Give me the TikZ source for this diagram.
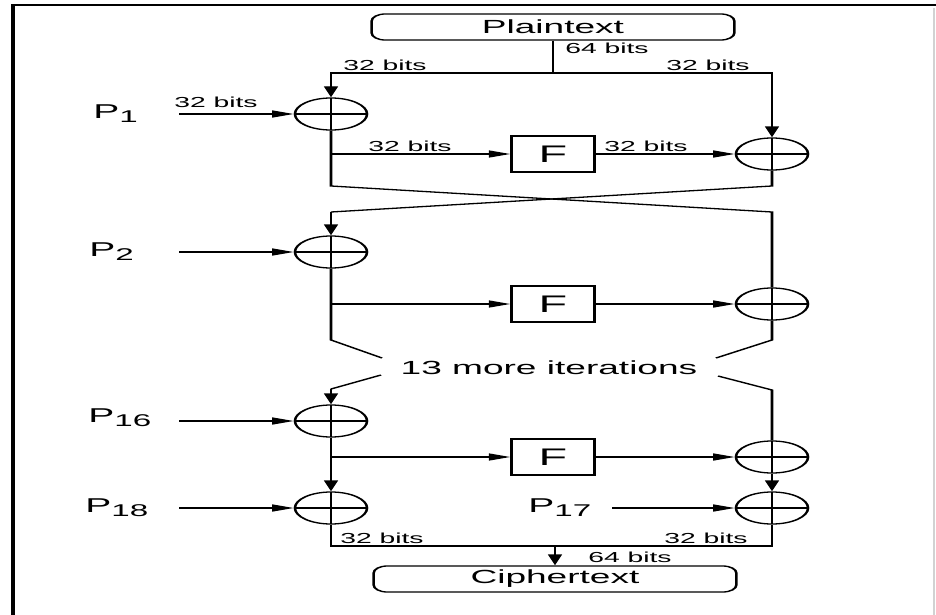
\documentclass[tikz,border=0pt]{standalone}
\usepackage{fontspec}
\setmainfont{Liberation Sans}
\usetikzlibrary{arrows.meta,shapes.geometric}
\begin{document}
\begin{tikzpicture}
\useasboundingbox (0,0) rectangle (936pt,-615pt);
\fill[white] (0,0) rectangle (936pt,-615pt);
% Everything is drawn in a horizontally widened canvas;
% coordinates below are given in final pixel units (x right, y down).
\begin{scope}[transform canvas={xscale=1.95}, x=0.512821pt, y=-1pt,
  wire/.style={line width=1.3pt},
  tip/.style={-{Triangle[length=11pt,width=7pt]}},
  xorop/.style={ellipse, draw, line width=1.3pt, minimum width=37pt,
    minimum height=32pt, inner sep=0pt,
    path picture={\draw[line width=1.3pt]
      (path picture bounding box.west) -- (path picture bounding box.east)
      (path picture bounding box.north) -- (path picture bounding box.south);}},
  fbox/.style={draw, line width=1.3pt, minimum width=42.5pt,
    minimum height=36pt, inner sep=0pt, font=\fontsize{24}{24}\selectfont},
  endbox/.style={draw, line width=1.3pt, rounded corners=7pt,
    minimum width=186pt, minimum height=26pt, inner sep=0pt,
    font=\fontsize{19}{19}\selectfont},
  bits/.style={inner sep=0pt, font=\fontsize{14.5}{14.5}\selectfont},
  big/.style={inner sep=0pt, font=\fontsize{19}{19}\selectfont},
  plabel/.style={inner sep=0pt, anchor=base west, font=\fontsize{20}{20}\selectfont}]

  % frame
  \draw[line width=2pt] (13,615) -- (13,5) -- (936,5);
  \draw[gray!35, line width=0.8pt] (934,8) -- (934,615);

  % input / output blocks
  \node[endbox] (plain) at (553,27) {Plaintext};
  \node[endbox] (cipher) at (555,579) {Ciphertext};

  % xor operators
  \node[xorop] (x1l) at (331,114) {};
  \node[xorop] (x1r) at (772,154) {};
  \node[xorop] (x2l) at (331,252) {};
  \node[xorop] (x2r) at (772,304) {};
  \node[xorop] (x3l) at (331,421) {};
  \node[xorop] (x3r) at (772,457) {};
  \node[xorop] (x4l) at (331,508) {};
  \node[xorop] (x4r) at (772,508) {};

  % round functions
  \node[fbox] (f1) at (553,154) {F};
  \node[fbox] (f2) at (553,304) {F};
  \node[fbox] (f3) at (553,457) {F};

  % subkey labels
  \node[plabel] (p1) at (93,119) {P\raisebox{-4pt}{\fontsize{17}{17}\selectfont 1}};
  \node[plabel] (p2) at (89,256) {P\raisebox{-4pt}{\fontsize{17}{17}\selectfont 2}};
  \node[plabel] (p16) at (88,422) {P\raisebox{-4pt}{\fontsize{17}{17}\selectfont 16}};
  \node[plabel] (p18) at (85,512) {P\raisebox{-4pt}{\fontsize{17}{17}\selectfont 18}};
  \node[plabel] (p17) at (528,512) {P\raisebox{-4pt}{\fontsize{17}{17}\selectfont 17}};

  % helper points
  \coordinate (split) at (553,73);
  \coordinate (p1in) at (179,114);
  \coordinate (p2in) at (179,252);
  \coordinate (p16in) at (179,421);
  \coordinate (p18in) at (179,508);
  \coordinate (p17in) at (612,508);
  \coordinate (r1l) at (331,186);
  \coordinate (r1r) at (772,186);
  \coordinate (r2l) at (331,212);
  \coordinate (r2r) at (772,212);
  \coordinate (g2l) at (331,340);
  \coordinate (g2r) at (772,340);
  \coordinate (s1l) at (382,358);
  \coordinate (s1r) at (716,358);
  \coordinate (s2l) at (381,375);
  \coordinate (s2r) at (718,376);
  \coordinate (g3l) at (331,389);
  \coordinate (g3r) at (772,390);
  \coordinate (bl) at (331,546);
  \coordinate (br) at (772,546);
  \coordinate (join) at (555,546);

  % round 1
  \draw[wire] (plain.south) -- (split);
  \draw[wire,tip] (split) -| (x1l.north);
  \draw[wire,tip] (split) -| (x1r.north);
  \draw[wire,tip] (p1in) -- (x1l.west);
  \draw[wire,tip] (x1l.south |- f1) -- (f1.west);
  \draw[wire,tip] (f1.east) -- (x1r.west);
  \draw[wire] (x1l.south) -- (r1l) -- (r2r) -- (x2r.north);
  \draw[wire] (x1r.south) -- (r1r) -- (r2l);

  % round 2
  \draw[wire,tip] (r2l) -- (x2l.north);
  \draw[wire,tip] (p2in) -- (x2l.west);
  \draw[wire,tip] (x2l.south |- f2) -- (f2.west);
  \draw[wire,tip] (f2.east) -- (x2r.west);
  \draw[wire] (x2l.south) -- (g2l) -- (s1l);
  \draw[wire] (x2r.south) -- (g2r) -- (s1r);

  \node[big] (more) at (549,368) {13 more iterations};

  % round 16 and output whitening
  \draw[wire] (s2l) -- (g3l);
  \draw[wire,tip] (g3l) -- (x3l.north);
  \draw[wire] (s2r) -- (g3r) -- (x3r.north);
  \draw[wire,tip] (p16in) -- (x3l.west);
  \draw[wire,tip] (x3l.south) -- (x4l.north);
  \draw[wire,tip] (x3l.south |- f3) -- (f3.west);
  \draw[wire,tip] (f3.east) -- (x3r.west);
  \draw[wire,tip] (x3r.south) -- (x4r.north);
  \draw[wire,tip] (p18in) -- (x4l.west);
  \draw[wire,tip] (p17in) -- (x4r.west);
  \draw[wire] (x4l.south) -- (bl) -- (br) -- (x4r.south);
  \draw[wire,tip] (join) -- (cipher.north);

  % width labels
  \node[bits] (b64a) at (607,48) {64 bits};
  \node[bits] (b32a) at (385,65) {32 bits};
  \node[bits] (b32b) at (708,65) {32 bits};
  \node[bits] (b32c) at (216,102) {32 bits};
  \node[bits] (b32d) at (410,146) {32 bits};
  \node[bits] (b32e) at (646,146) {32 bits};
  \node[bits] (b32f) at (382,538) {32 bits};
  \node[bits] (b32g) at (706,538) {32 bits};
  \node[bits] (b64b) at (630,557) {64 bits};
\end{scope}
\end{tikzpicture}
\end{document}
